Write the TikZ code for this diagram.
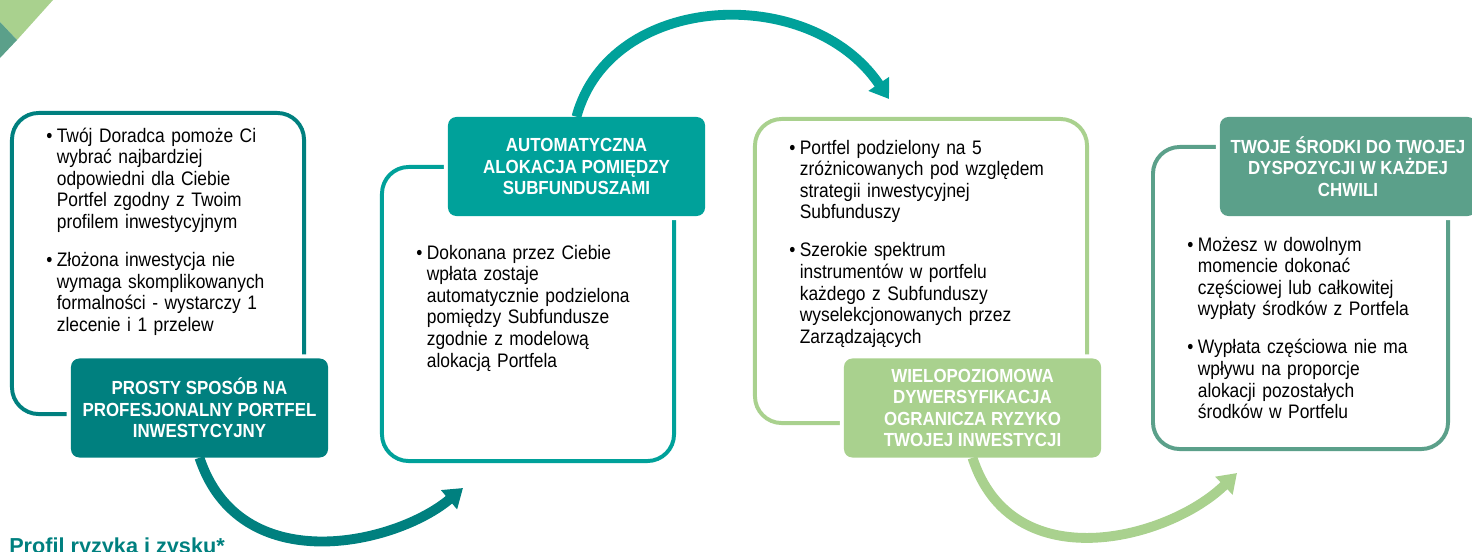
\documentclass[tikz,border=0pt]{standalone}
\usepackage{fontspec}
\setmainfont{Liberation Sans}[FakeStretch=0.89]
\newfontfamily\profilfont{Liberation Sans}
\usetikzlibrary{arrows.meta}
\definecolor{kol1}{RGB}{0,128,127}
\definecolor{kol2}{RGB}{0,161,154}
\definecolor{kol3}{RGB}{169,209,142}
\definecolor{kol4}{RGB}{91,160,138}
\newlength{\pktind}\setlength{\pktind}{7.5pt}
\newcommand{\pkt}[1]{\hangindent=\pktind\hangafter=1\noindent\hbox to\pktind{\textbullet\hfil}#1\par}
\tikzset{
  ramka/.style={draw, line width=2.8pt, rounded corners=19pt, inner sep=0pt},
  etykieta/.style={preaction={draw=white, line width=6pt}, rounded corners=6pt, text=white, align=center,
    font=\fontsize{13.5}{15.3}\selectfont\bfseries, inner sep=0pt, minimum height=2.475cm},
  opis/.style={anchor=base west, inner sep=0pt, text width=8cm,
    font=\fontsize{13.9}{15.4}\selectfont\setlength{\parskip}{11.5pt}},
  strzalka/.style={line width=7pt, -{Triangle[length=13pt,width=17pt]}},
}
\begin{document}
\begin{tikzpicture}[x=0.025cm, y=-0.025cm]
	\useasboundingbox (0,0) rectangle (1472,552);
	% ramki
	\node(r1)[ramka, draw=kol1, minimum width=7.3cm, minimum height=7.525cm] at (158,263.5){};
	\node(r2)[ramka, draw=kol2, minimum width=7.3cm, minimum height=7.35cm] at (528,314){};
	\node(r3)[ramka, draw=kol3, minimum width=8.3cm, minimum height=7.6cm] at (921,271){};
	\node(r4)[ramka, draw=kol4, minimum width=7.375cm, minimum height=7.55cm] at (1300.5,298){};
	% etykiety
	\node(l1)[etykieta, fill=kol1, minimum width=6.425cm] at (199.5,408){PROSTY SPOSÓB NA\\PROFESJONALNY PORTFEL\\INWESTYCYJNY};
	\node(l2)[etykieta, fill=kol2, minimum width=6.425cm] at (576.5,166.5){AUTOMATYCZNA\\ALOKACJA POMIĘDZY\\SUBFUNDUSZAMI};
	\node(l3)[etykieta, fill=kol3, minimum width=6.425cm] at (972.5,408){WIELOPOZIOMOWA\\DYWERSYFIKACJA\\OGRANICZA RYZYKO\\TWOJEJ INWESTYCJI};
	\node(l4)[etykieta, fill=kol4, minimum width=6.4cm] at (1348,166.5){TWOJE ŚRODKI DO TWOJEJ\\DYSPOZYCJI W KAŻDEJ\\CHWILI};
	% opisy
	\node(o1)[opis] at (46,142){\pkt{Twój Doradca pomoże Ci\newline wybrać najbardziej\newline odpowiedni dla Ciebie\newline Portfel zgodny z Twoim\newline profilem inwestycyjnym}\pkt{Złożona inwestycja nie\newline wymaga skomplikowanych\newline formalności - wystarczy 1\newline zlecenie i 1 przelew}};
	\node(o2)[opis] at (416,259){\pkt{Dokonana przez Ciebie\newline wpłata zostaje\newline automatycznie podzielona\newline pomiędzy Subfundusze\newline zgodnie z modelową\newline alokacją Portfela}};
	\node(o3)[opis] at (789,154){\pkt{Portfel podzielony na 5\newline zróżnicowanych pod względem\newline strategii inwestycyjnej\newline Subfunduszy}\pkt{Szerokie spektrum\newline instrumentów w portfelu\newline każdego z Subfunduszy\newline wyselekcjonowanych przez\newline Zarządzających}};
	\node(o4)[opis] at (1187,251){\pkt{Możesz w dowolnym\newline momencie dokonać\newline częściowej lub całkowitej\newline wypłaty środków z Portfela}\pkt{Wypłata częściowa nie ma\newline wpływu na proporcje\newline alokacji pozostałych\newline środków w Portfelu}};
	% strzalki
	\coordinate(t1) at (463,488);
	\coordinate(t2) at (889,99);
	\coordinate(t3) at (1237,473);
	\draw[strzalka, kol1](l1.south) .. controls (240,580) and (395,545) .. (t1);
	\draw[strzalka, kol2](l2.north) .. controls (610,-8) and (810,-18) .. (t2);
	\draw[strzalka, kol3](l3.south) .. controls (1012,580) and (1168,540) .. (t3);
	% naroznik
	\fill[kol3] (0,0) -- (53,0) -- (17,40) -- (0,22) -- cycle;
	\fill[kol4] (0,22) -- (17,40) -- (0,58) -- cycle;
	\node(profil)[anchor=base west, inner sep=0pt, text=kol1, font=\profilfont\fontsize{15.4}{18}\selectfont\bfseries] at (9,553.5){Profil ryzyka i zysku*};
\end{tikzpicture}
\end{document}
